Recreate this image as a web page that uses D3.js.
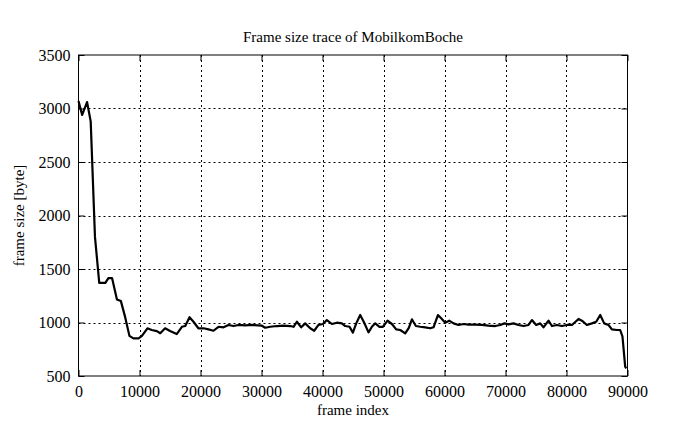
<!DOCTYPE html>
<html><head><meta charset="utf-8">
<script src="https://cdn.jsdelivr.net/npm/d3@7"></script>
<style>
html,body{margin:0;padding:0;background:#fff;}
svg text{font-family:"Liberation Serif","DejaVu Serif",serif;fill:#000;}
</style></head>
<body><svg id="c" width="695" height="429"></svg>
<script>
const title = "Frame size trace of MobilkomBoche";
const xLabel = "frame index";
const yLabel = "frame size [byte]";
const xTicks = [0,10000,20000,30000,40000,50000,60000,70000,80000,90000];
const yTicks = [500,1000,1500,2000,2500,3000,3500];
const frames = [0,600,1400,2000,2700,3400,4400,4900,5500,6300,6950,7650,8350,9000,9850,10400,11300,12000,12850,13400,14200,15000,16100,16950,17500,18200,18850,19650,
20500,21300,22130,22950,23770,24590,25410,26230,27330,28430,30070,30610,31430,32530,33610,34710,35250,35800,36510,37160,
37980,38640,39340,40070,40720,41540,42360,43180,43720,44430,44980,45530,46180,46840,47540,48100,48640,49340,49900,50660,51380,52080,52740,53560,54150,
54660,55310,56020,56840,57660,58200,58920,59460,60120,60770,61480,62300,63120,63930,65030,66130,67210,68310,69130,69840,70490,71310,
72130,72950,73770,74330,75030,75690,76230,77050,77610,78430,79250,80070,80890,81970,82530,83340,84160,84870,85530,86180,86890,87440,88260,88800,89180,89620,89790];
const sizes = [3070,2940,3060,2880,1800,1370,1370,1415,1415,1215,1200,1050,875,852,852,875,946,930,920,900,946,920,892,960,967,1049,1007,946,
946,936,923,960,955,977,967,977,974,977,970,951,960,967,970,967,960,1007,955,992,
946,923,977,986,1023,986,998,992,967,960,905,992,1070,998,908,960,992,960,960,1017,986,936,930,898,950,
1030,967,960,955,946,955,1070,1039,998,1017,992,977,986,980,980,977,970,967,977,992,983,992,
977,967,977,1023,977,992,955,1017,967,977,967,977,977,1033,1017,977,992,1007,1070,992,977,936,930,930,867,587,572];

const svg = d3.select("#c");
const L=78.5, R=627.5, T=55, B=376;
const x = d3.scaleLinear().domain([0,90000]).range([L,R]);
const y = d3.scaleLinear().domain([500,3500]).range([B,T]);
const tk = 6;

// grid
const g = svg.append("g");
g.selectAll(".gx").data(xTicks.slice(1,-1)).enter().append("line")
 .attr("x1",d=>Math.round(x(d))+0.5).attr("x2",d=>Math.round(x(d))+0.5)
 .attr("y1",T).attr("y2",B).attr("stroke","#000").attr("stroke-width",1).attr("stroke-dasharray","2,3");
g.selectAll(".gy").data(yTicks.slice(1,-1)).enter().append("line")
 .attr("y1",d=>Math.round(y(d))+0.5).attr("y2",d=>Math.round(y(d))+0.5)
 .attr("x1",L).attr("x2",R).attr("stroke","#000").attr("stroke-width",1).attr("stroke-dasharray","2,3");

// axes (inward ticks)
const xa = svg.append("g").attr("transform",`translate(0,${B})`)
 .call(d3.axisBottom(x).tickValues(xTicks).tickFormat(d3.format("d")).tickSizeInner(-tk).tickSizeOuter(0).tickPadding(10));
const xt = svg.append("g").attr("transform",`translate(0,${T})`)
 .call(d3.axisTop(x).tickValues(xTicks).tickFormat("").tickSizeInner(-tk).tickSizeOuter(0));
const ya = svg.append("g").attr("transform",`translate(${L},0)`)
 .call(d3.axisLeft(y).tickValues(yTicks).tickFormat(d3.format("d")).tickSizeInner(-tk).tickSizeOuter(0).tickPadding(8));
const yr = svg.append("g").attr("transform",`translate(${R},0)`)
 .call(d3.axisRight(y).tickValues(yTicks).tickFormat("").tickSizeInner(-tk).tickSizeOuter(0));
[xa,xt,ya,yr].forEach(a=>{a.select(".domain").remove();a.selectAll("line").attr("stroke","#000");
 a.selectAll("text").attr("font-size",16).attr("font-family","Liberation Serif, serif").attr("fill","#000");});

svg.append("rect").attr("x",L).attr("y",T).attr("width",R-L).attr("height",B-T)
 .attr("fill","none").attr("stroke","#000").attr("stroke-width",1);

// line
const data = frames.map((f,i)=>[f,sizes[i]]);
svg.append("path").datum(data)
 .attr("d",d3.line().x(d=>x(d[0])).y(d=>y(d[1])))
 .attr("fill","none").attr("stroke","#000").attr("stroke-width",2.2).attr("stroke-linejoin","round");

// texts
svg.append("text").attr("x",(L+R)/2).attr("y",42).attr("text-anchor","middle").attr("font-size",15).text(title);
svg.append("text").attr("x",(L+R)/2).attr("y",415).attr("text-anchor","middle").attr("font-size",15).text(xLabel);
svg.append("text").attr("transform",`translate(24,${(T+B)/2}) rotate(-90)`).attr("text-anchor","middle").attr("font-size",15).text(yLabel);
</script></body></html>
